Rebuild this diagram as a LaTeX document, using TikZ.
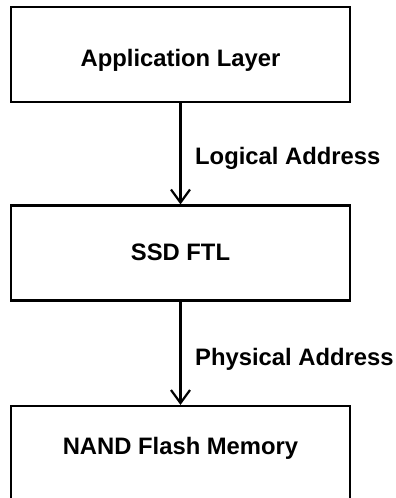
\documentclass[tikz,border=0pt]{standalone}
\usepackage{fontspec}
\setmainfont{Liberation Sans}
\usetikzlibrary{arrows.meta}
\begin{document}
\begin{tikzpicture}[x=1pt,y=-1pt,
  txt/.style={font=\fontsize{23.8}{28}\selectfont\bfseries,inner sep=0pt},
  layerbox/.style={draw=black,line width=2.2pt,minimum width=339pt,minimum height=95pt,inner sep=0pt},
  lbl/.style={txt,anchor=west},
  conn/.style={line width=2.2pt,-{Straight Barb[length=13pt,width=19pt,line width=2.2pt]}}]
\useasboundingbox (0,0) rectangle (396,498);
\node[layerbox] (app) at (180.5,54.5) {};
\node[txt] (apptxt) at (180.5,60) {Application Layer};
\node[layerbox] (ftl) at (180.5,253) {};
\node[txt] (ftltxt) at (180.5,252) {SSD FTL};
\node[layerbox] (nand) at (180.5,453.5) {};
\node[txt] (nandtxt) at (180.5,448) {NAND Flash Memory};
\draw[conn] (app.south) -- (ftl.north);
\draw[conn] (ftl.south) -- (nand.north);
\node[lbl] (la) at (195,158) {Logical Address};
\node[lbl] (pa) at (195,359) {Physical Address};
\end{tikzpicture}
\end{document}
